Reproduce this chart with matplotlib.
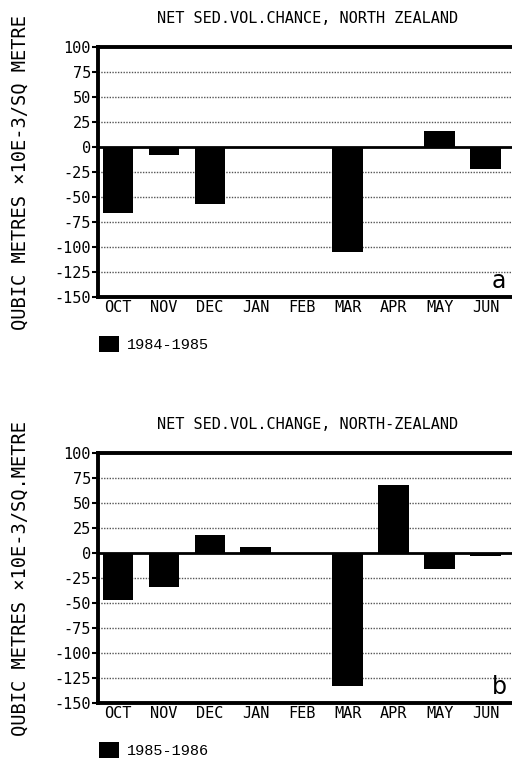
import matplotlib.pyplot as plt

months = ["OCT", "NOV", "DEC", "JAN", "FEB", "MAR", "APR", "MAY", "JUN"]
values_8485 = [-66, -8, -57, 0, 0, -105, 0, 16, -22]
values_8586 = [-47, -34, 18, 6, 0, -133, 68, -16, -3]
yticks = [100, 75, 50, 25, 0, -25, -50, -75, -100, -125, -150]

MONO = "DejaVu Sans Mono"


def draw_panel(ax, values, title, ylabel, season, letter):
    x = list(range(len(months)))
    bars = ax.bar(x, values, width=0.67, color="black", label=season, zorder=3)

    ax.set_xlim(-0.435, 8.7)
    ax.set_ylim(-150, 100)
    ax.set_yticks(yticks)
    ax.set_yticklabels([str(t) for t in yticks], family=MONO, fontsize=11)
    ax.set_xticks(x)
    ax.set_xticklabels(months, family=MONO, fontsize=11)
    ax.tick_params(axis="x", length=0, pad=2)
    ax.tick_params(axis="y", length=4, width=1.5, pad=1)

    for t in yticks[1:-1]:
        if t == 0:
            ax.axhline(0, color="black", lw=2, zorder=2)
        else:
            ax.axhline(t, color="#555555", lw=1, ls=(0, (1, 1)), zorder=1)

    for side in ["left", "top", "bottom"]:
        ax.spines[side].set_linewidth(2.8)
    ax.spines["right"].set_visible(False)

    ax.set_title(title, family=MONO, fontsize=11, pad=17)
    ax.set_ylabel(ylabel, family=MONO, fontsize=13.5, labelpad=18)
    ax.text(0.955, 0.015, letter, transform=ax.transAxes, fontsize=17,
            family="DejaVu Sans", ha="center", va="bottom")

    ax.legend(handles=[bars], loc="upper left", bbox_to_anchor=(-0.03, -0.1),
              frameon=False, handlelength=1.3, handleheight=1.3,
              handletextpad=0.5, prop={"family": "Liberation Mono", "size": 11})


fig = plt.figure(figsize=(5.12, 7.62), dpi=100)
ax1 = fig.add_axes([0.1914, 0.6102, 0.82, 0.328])
ax2 = fig.add_axes([0.1914, 0.0774, 0.82, 0.328])

draw_panel(ax1, values_8485, "NET SED.VOL.CHANCE, NORTH ZEALAND",
           "QUBIC METRES \u00d710E-3/SQ METRE", "1984-1985", "a")
draw_panel(ax2, values_8586, "NET SED.VOL.CHANGE, NORTH-ZEALAND",
           "QUBIC METRES \u00d710E-3/SQ.METRE", "1985-1986", "b")

fig.savefig("out.png", dpi=100)
